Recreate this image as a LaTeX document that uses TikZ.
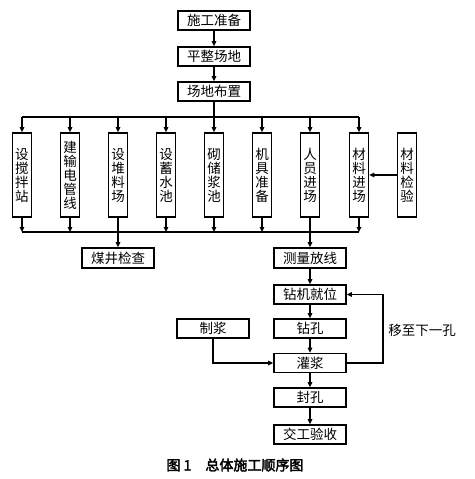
\documentclass[tikz,border=0pt]{standalone}
\usepackage{fontspec}
\usetikzlibrary{arrows.meta}
\newfontfamily\cjk{Noto Sans CJK SC}
\newfontfamily\cjkbold[AutoFakeBold=2.5]{Noto Sans CJK SC}
\begin{document}
\begin{tikzpicture}[x=1pt,y=-1pt,
  box/.style={draw,line width=1.7pt,inner sep=0pt,minimum height=19pt,minimum width=72pt,font=\cjk\fontsize{13.5}{14}\selectfont},
  vbox/.style={draw,line width=1.7pt,inner sep=0pt,minimum height=84pt,minimum width=19pt,align=center,font=\cjk\fontsize{13.5}{14}\selectfont},
  arr/.style={line width=1.3pt,-{Triangle[length=5pt,width=4.5pt]}},
  ln/.style={line width=1.3pt}]
\useasboundingbox (0,0) rectangle (474,479);
\node[box] (s1) at (214,20.5) {施工准备};
\node[box] (s2) at (214,56.5) {平整场地};
\node[box] (s3) at (214,91.5) {场地布置};
\node[vbox] (v1) at (22,175) {设\\搅\\拌\\站};
\node[vbox] (v2) at (70,175) {建\\输\\电\\管\\线};
\node[vbox] (v3) at (118,175) {设\\堆\\料\\场};
\node[vbox] (v4) at (166,175) {设\\蓄\\水\\池};
\node[vbox] (v5) at (214,175) {砌\\储\\浆\\池};
\node[vbox] (v6) at (262,175) {机\\具\\准\\备};
\node[vbox] (v7) at (310,175) {人\\员\\进\\场};
\node[vbox] (v8) at (359,175) {材\\料\\进\\场};
\node[vbox] (v9) at (407,175) {材\\料\\检\\验};
\node[box,minimum height=20pt] (m1) at (118,258) {煤井检查};
\node[box,minimum height=20pt] (m2) at (310,258) {测量放线};
\node[box] (d1) at (310,294.5) {钻机就位};
\node[box] (d2) at (310,328.5) {钻孔};
\node[box] (z) at (213,328.5) {制浆};
\node[box] (g) at (310,363) {灌浆};
\node[box] (f) at (310,397.5) {封孔};
\node[box] (j) at (310,434.5) {交工验收};
\node[font=\cjk\fontsize{13.5}{14}\selectfont] (lbl) at (422,330) {移至下一孔};
\node[font=\cjkbold\bfseries\fontsize{14}{16}\selectfont] (cap) at (235,465) {图 1\quad 总体施工顺序图};
\coordinate (bt) at (214,117);
\coordinate (bb) at (214,232);
\draw[arr] (s1) -- (s2);
\draw[arr] (s2) -- (s3);
\draw[ln] (s3) -- (bt);
\draw[ln] (v1.north |- bt) -- (v8.north |- bt);
\foreach \i in {1,...,8} {\draw[arr] (v\i.north |- bt) -- (v\i.north);}
\draw[arr] (v9.west) -- (v8.east);
\draw[ln] (v1.south |- bb) -- (v8.south |- bb);
\foreach \i in {1,2,4,5,6,8} {\draw[arr] (v\i.south) -- (v\i.south |- bb);}
\draw[arr] (v3.south) -- (m1.north);
\draw[arr] (v7.south) -- (m2.north);
\draw[arr] (m2) -- (d1);
\draw[arr] (d1) -- (d2);
\draw[arr] (d2) -- (g);
\draw[arr] (g) -- (f);
\draw[arr] (f) -- (j);
\draw[arr] (z.south) |- (g.west);
\coordinate (lp) at (383,363);
\draw[arr] (g.east) -- (lp) |- (d1.east);
\end{tikzpicture}
\end{document}
